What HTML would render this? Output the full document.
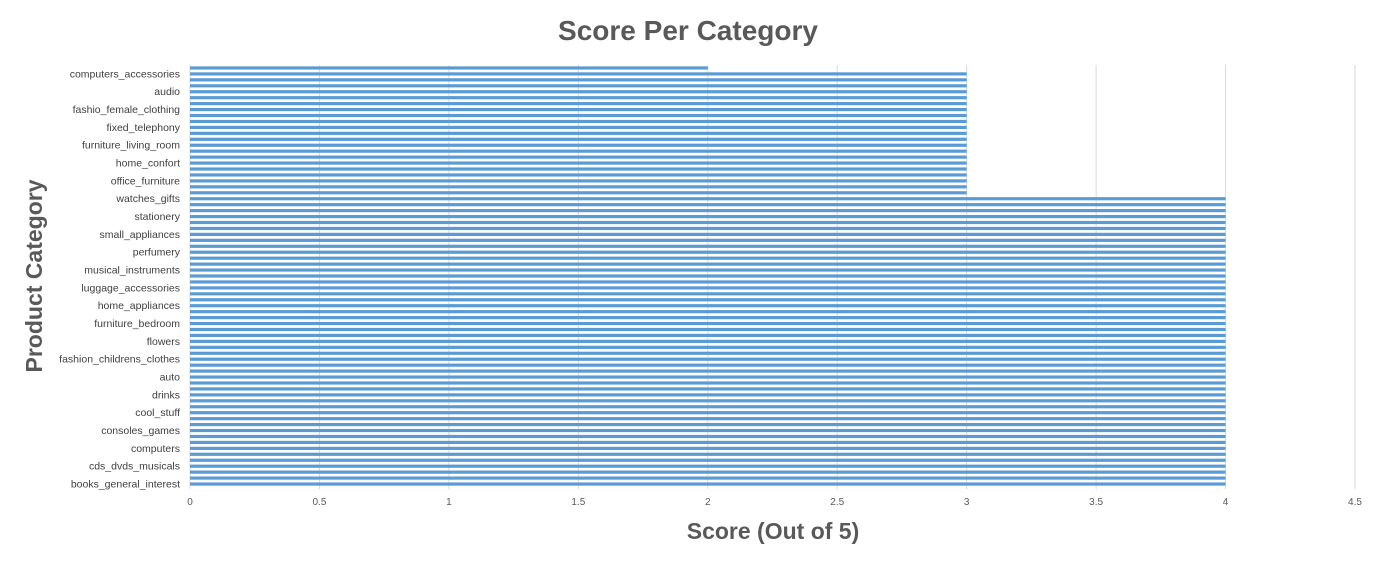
<!DOCTYPE html>
<html><head><meta charset="utf-8"><style>
body{margin:0;background:#fff;}
svg{display:block;font-family:"Liberation Sans",sans-serif;}
</style></head><body>
<svg id="c" width="1374" height="561">
<text x="688" y="40" text-anchor="middle" font-size="28" font-weight="bold" fill="#595959">Score Per Category</text>
<text x="773" y="539" text-anchor="middle" font-size="23" font-weight="bold" fill="#595959">Score (Out of 5)</text>
<text transform="translate(42,276) rotate(-90)" text-anchor="middle" font-size="23" font-weight="bold" fill="#595959">Product Category</text>
<g id="grid"></g><g id="bars"></g><g id="ylabels"></g><g id="xlabels"></g>
</svg>
<script>
const categories=["books_general_interest","books_technical","cine_photo","cds_dvds_musicals","fashion_shoes","fashion_sport","computers","food","food_drink","consoles_games","construction_tools","costruction_tools_garden","cool_stuff","diapers_hygiene","dvds_blu_ray","drinks","electronics","la_cuisine","auto","baby","bed_bath_table","fashion_childrens_clothes","fashion_bags","fashion_underwear","flowers","furniture_decor","furniture_mattress","furniture_bedroom","garden_tools","health_beauty","home_appliances","home_appliances_2","housewares","luggage_accessories","market_place","music","musical_instruments","party_supplies","pet_shop","perfumery","signaling_security","small_appliances_oven","small_appliances","sports_leisure","tablets_printing","stationery","telephony","toys","watches_gifts","agro_industry","air_conditioning","office_furniture","art","arts_crafts","home_confort","christmas_supplies","home_construction","furniture_living_room","industry_commerce","kitchen_dining","fixed_telephony","security_services","portable_kitchen","fashio_female_clothing","fashion_male_clothing","home_comfort_2","audio","books_imported","computers_other","computers_accessories","security_and_services"];
const scores=[4,4,4,4,4,4,4,4,4,4,4,4,4,4,4,4,4,4,4,4,4,4,4,4,4,4,4,4,4,4,4,4,4,4,4,4,4,4,4,4,4,4,4,4,4,4,4,4,4,3,3,3,3,3,3,3,3,3,3,3,3,3,3,3,3,3,3,3,3,3,2];
const xTicks=[0,0.5,1,1.5,2,2.5,3,3.5,4,4.5];
const xTickLabels=["0","0.5","1","1.5","2","2.5","3","3.5","4","4.5"];
const NS="http://www.w3.org/2000/svg";
const X0=190,X1=1355,XMAX=4.5,YT=65,YB=487;
const x=v=>X0+v/XMAX*(X1-X0);
const band=(YB-YT)/categories.length;
const y=i=>YB-(i+0.5)*band;
function mk(t,a,p){const e=document.createElementNS(NS,t);for(const k in a)e.setAttribute(k,a[k]);p.appendChild(e);return e;}
const g=document.getElementById('grid'),b=document.getElementById('bars'),yl=document.getElementById('ylabels'),xl=document.getElementById('xlabels');
xTicks.forEach((t,i)=>{
 const l=mk('line',{x1:x(t),x2:x(t),y1:YT,y2:YB+2,stroke:'#d9d9d9','stroke-width':1},g);
 
 
 const tx=mk('text',{x:x(t),y:505,'text-anchor':'middle','font-size':10,fill:'#595959'},xl);
 tx.textContent=xTickLabels[i];
 
 
});
scores.forEach((v,i)=>{
 const r=mk('rect',{x:X0,y:y(i)-1.6,width:x(v)-X0,height:3.2,fill:'#5b9bd5'},b);
 
 
 if(i%3===0){
  const tx=mk('text',{x:180,y:y(i)+3.5,'text-anchor':'end','font-size':10.5,fill:'#404040'},yl);
  tx.textContent=categories[i];
  
  
 }
});
</script>
</body></html>
